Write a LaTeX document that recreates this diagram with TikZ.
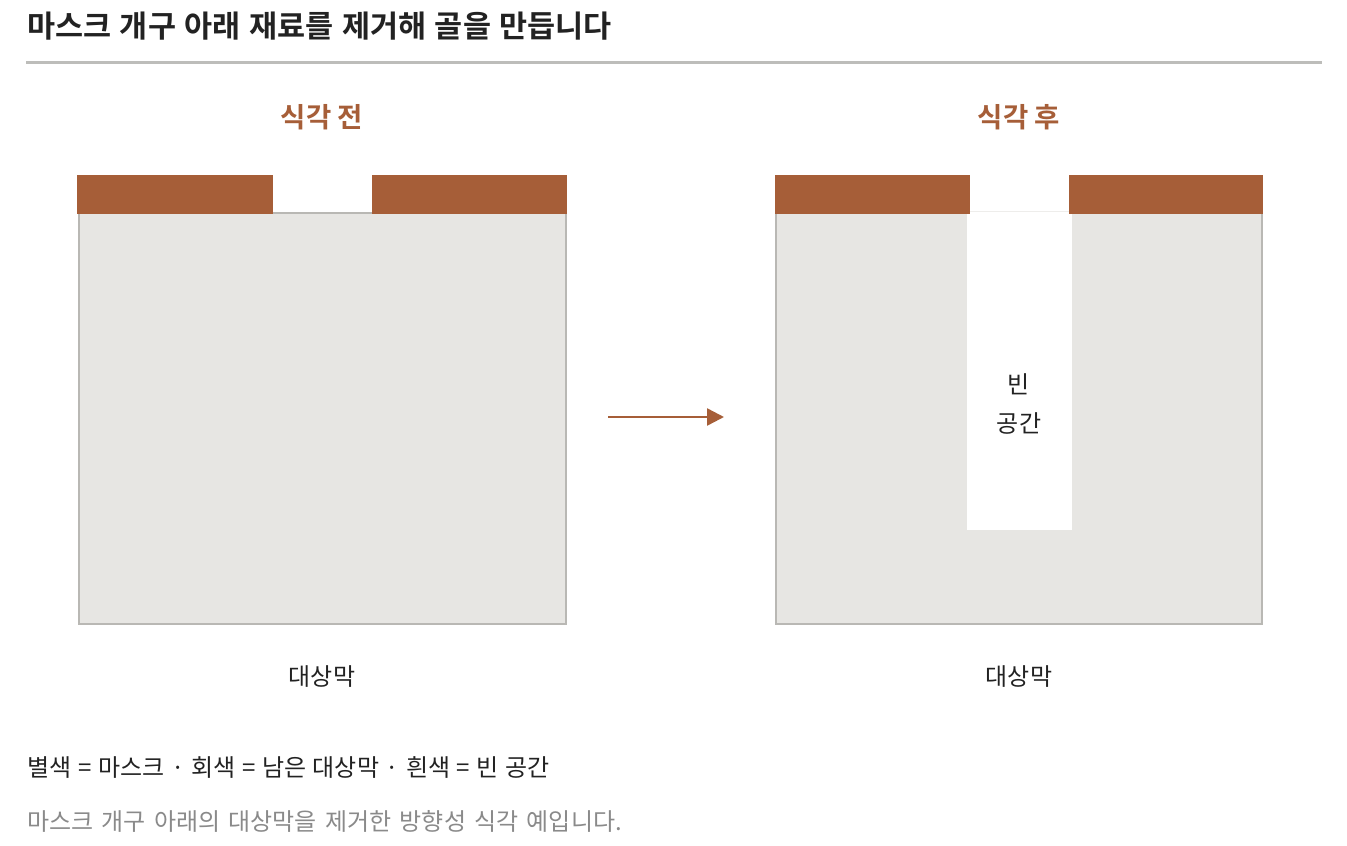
\documentclass[tikz,border=0pt]{standalone}
\usepackage{fontspec}
\setmainfont{Noto Sans CJK KR}
\newfontfamily\krbold{Noto Sans CJK KR Bold}
\usetikzlibrary{arrows.meta}
\definecolor{mask}{HTML}{A65E38}
\definecolor{film}{HTML}{E7E6E3}
\definecolor{filmedge}{HTML}{B9B8B4}
\definecolor{rulec}{HTML}{BDBDBA}
\definecolor{ink}{HTML}{222222}
\definecolor{note}{HTML}{8A8A8A}
\begin{document}
\begin{tikzpicture}[x=1pt,y=-1pt,
  txt/.style={inner sep=0pt,text=ink,font=\fontsize{24}{28}\selectfont},
  head/.style={inner sep=0pt,text=mask,font=\krbold\fontsize{27.5}{32}\selectfont},
  filmbox/.style={draw=filmedge,fill=film,line width=2pt},
  maskbar/.style={fill=mask}]
\useasboundingbox (0,0) rectangle (1347,846);
\fill[white] (0,0) rectangle (1347,846);
% title
\node[inner sep=0pt,anchor=west,text=ink,font=\krbold\fontsize{30.5}{34}\selectfont] (title) at (27,26) {\spaceskip=8.6pt\relax 마스크 개구 아래 재료를 제거해 골을 만듭니다};
\draw[rulec,line width=3pt] (26,62) -- (1322,62);
% headings
\node[head] (h1) at (322,117) {식각 전};
\node[head] (h2) at (1019,117) {식각 후};
% left: before etch
\draw[filmbox] (79,213) rectangle (566,624);
\fill[maskbar] (77,175) rectangle (273,214);
\fill[maskbar] (372,175) rectangle (567,214);
% right: after etch
\draw[filmbox] (776,213) rectangle (1262,624);
\fill[white] (967,211) rectangle (1072,530);
\draw[film!70!white,line width=0.8pt] (970,211.5) -- (1069,211.5);
\fill[maskbar] (775,175) rectangle (970,214);
\fill[maskbar] (1069,175) rectangle (1263,214);
\node[txt] (v1) at (1019,384) {빈};
\node[txt] (v2) at (1019,423) {공간};
% arrow
\coordinate (a1) at (608,417);
\coordinate (a2) at (724,417);
\draw[mask,line width=2.5pt,-{Triangle[length=17pt,width=17pt]}] (a1) -- (a2);
% labels
\node[txt] (l1) at (322,677) {대상막};
\node[txt] (l2) at (1019,677) {대상막};
\node[txt,anchor=west] (legend) at (27,767) {\spaceskip=6.7pt\relax 별색 = 마스크 · 회색 = 남은 대상막 · 흰색 = 빈 공간};
\node[txt,anchor=west,text=note] (cap) at (27,821) {\spaceskip=8.3pt\relax 마스크 개구 아래의 대상막을 제거한 방향성 식각 예입니다.};
\end{tikzpicture}
\end{document}
